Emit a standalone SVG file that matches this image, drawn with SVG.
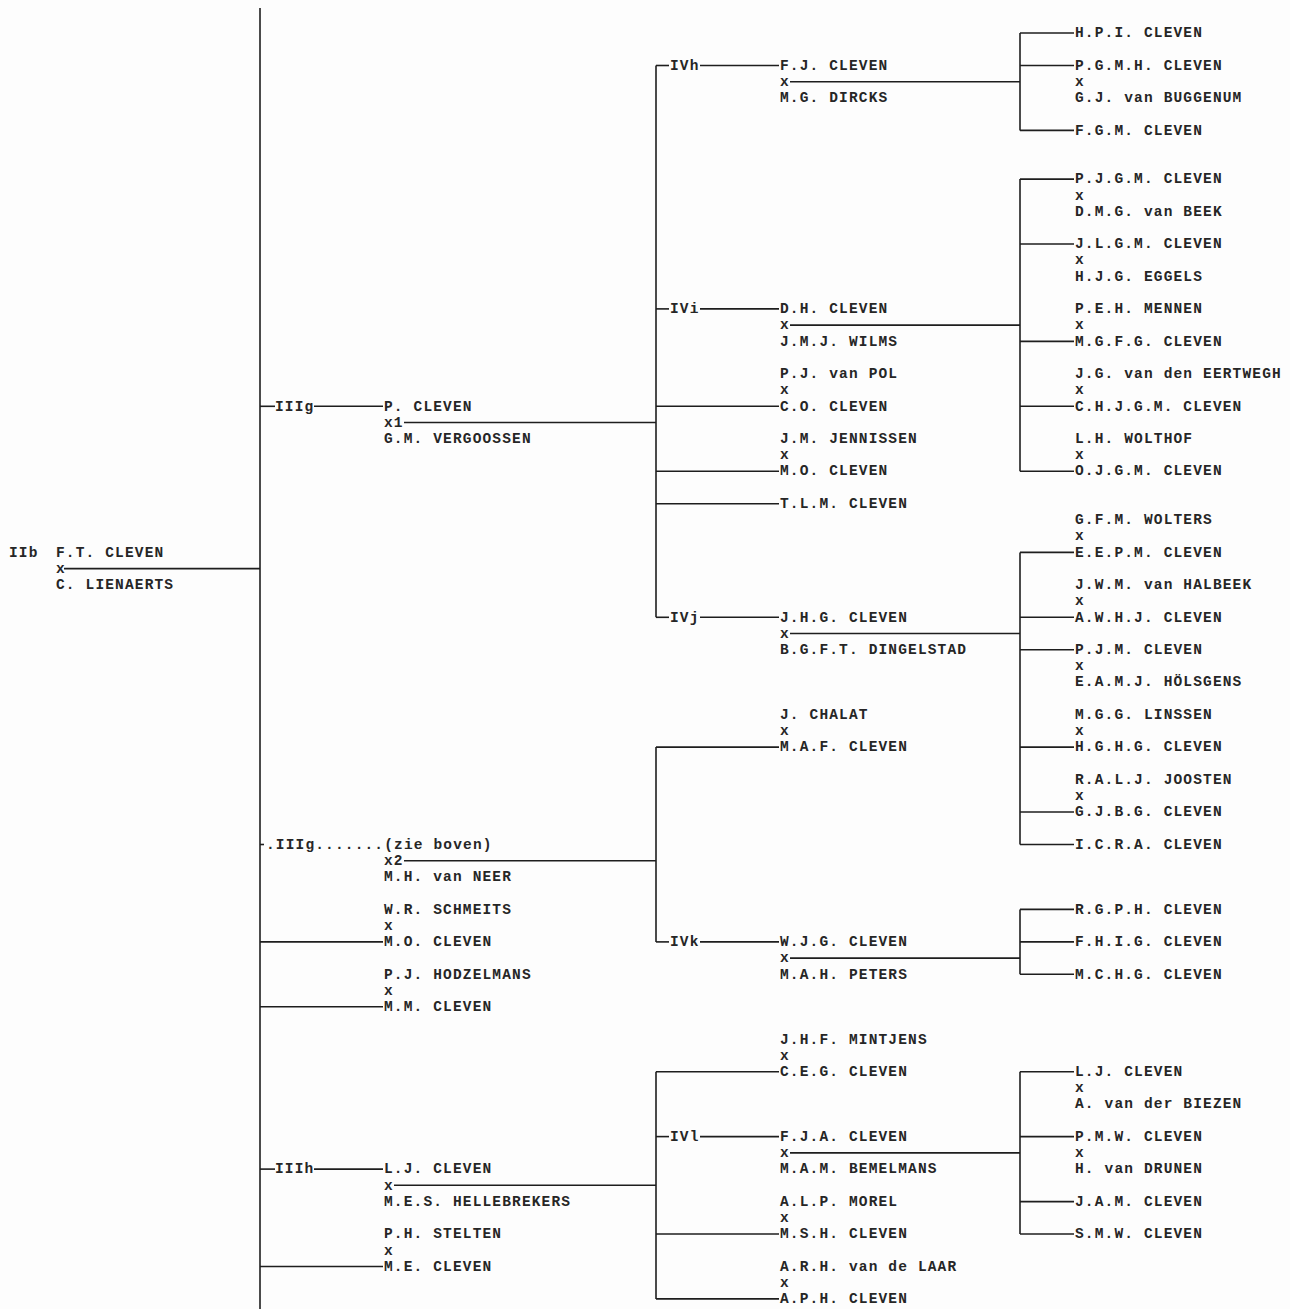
<svg xmlns="http://www.w3.org/2000/svg" width="1290" height="1309" viewBox="0 0 1290 1309">
<style>
text{font-family:"Liberation Mono","Courier New",monospace;font-size:14.5px;font-weight:bold;letter-spacing:1.15px;fill:#262626}
.c line{stroke:#1e1e1e;stroke-width:1.6;fill:none}
</style>
<rect width="1290" height="1309" fill="#fdfdfd"/>
<g class="c" id="connectors">
<line x1="260" y1="8" x2="260" y2="1309"/>
<line x1="64" y1="568.6" x2="260" y2="568.6"/>
<line x1="260" y1="406.3" x2="275" y2="406.3"/><line x1="314" y1="406.3" x2="383" y2="406.3"/>
<line x1="404" y1="422.5" x2="656" y2="422.5"/>
<line x1="260" y1="844.5" x2="264" y2="844.5"/>
<line x1="404" y1="860.7" x2="656" y2="860.7"/>
<line x1="260" y1="941.9" x2="383" y2="941.9"/>
<line x1="260" y1="1006.8" x2="383" y2="1006.8"/>
<line x1="260" y1="1169.1" x2="275" y2="1169.1"/><line x1="314" y1="1169.1" x2="383" y2="1169.1"/>
<line x1="394" y1="1185.3" x2="656" y2="1185.3"/>
<line x1="260" y1="1266.5" x2="383" y2="1266.5"/>
<line x1="656" y1="65.5" x2="656" y2="617.3"/>
<line x1="656" y1="747.1" x2="656" y2="941.9"/>
<line x1="656" y1="1071.7" x2="656" y2="1298.9"/>
<line x1="656" y1="65.5" x2="669" y2="65.5"/><line x1="700" y1="65.5" x2="779" y2="65.5"/>
<line x1="656" y1="308.9" x2="669" y2="308.9"/><line x1="700" y1="308.9" x2="779" y2="308.9"/>
<line x1="656" y1="406.3" x2="779" y2="406.3"/>
<line x1="656" y1="471.2" x2="779" y2="471.2"/>
<line x1="656" y1="503.7" x2="779" y2="503.7"/>
<line x1="656" y1="617.3" x2="669" y2="617.3"/><line x1="700" y1="617.3" x2="779" y2="617.3"/>
<line x1="656" y1="747.1" x2="779" y2="747.1"/>
<line x1="656" y1="941.9" x2="669" y2="941.9"/><line x1="700" y1="941.9" x2="779" y2="941.9"/>
<line x1="656" y1="1071.7" x2="779" y2="1071.7"/>
<line x1="656" y1="1136.6" x2="669" y2="1136.6"/><line x1="700" y1="1136.6" x2="779" y2="1136.6"/>
<line x1="656" y1="1234" x2="779" y2="1234"/>
<line x1="656" y1="1298.9" x2="779" y2="1298.9"/>
<line x1="790" y1="81.7" x2="1020" y2="81.7"/>
<line x1="790" y1="325.1" x2="1020" y2="325.1"/>
<line x1="790" y1="633.5" x2="1020" y2="633.5"/>
<line x1="790" y1="958.1" x2="1020" y2="958.1"/>
<line x1="790" y1="1152.9" x2="1020" y2="1152.9"/>
<line x1="1020" y1="33" x2="1020" y2="130.4"/>
<line x1="1020" y1="179.1" x2="1020" y2="471.2"/>
<line x1="1020" y1="552.4" x2="1020" y2="844.5"/>
<line x1="1020" y1="909.4" x2="1020" y2="974.3"/>
<line x1="1020" y1="1071.7" x2="1020" y2="1234"/>
<line x1="1020" y1="33" x2="1074" y2="33"/>
<line x1="1020" y1="65.5" x2="1074" y2="65.5"/>
<line x1="1020" y1="130.4" x2="1074" y2="130.4"/>
<line x1="1020" y1="179.1" x2="1074" y2="179.1"/>
<line x1="1020" y1="244" x2="1074" y2="244"/>
<line x1="1020" y1="341.4" x2="1074" y2="341.4"/>
<line x1="1020" y1="406.3" x2="1074" y2="406.3"/>
<line x1="1020" y1="471.2" x2="1074" y2="471.2"/>
<line x1="1020" y1="552.4" x2="1074" y2="552.4"/>
<line x1="1020" y1="617.3" x2="1074" y2="617.3"/>
<line x1="1020" y1="649.7" x2="1074" y2="649.7"/>
<line x1="1020" y1="747.1" x2="1074" y2="747.1"/>
<line x1="1020" y1="812" x2="1074" y2="812"/>
<line x1="1020" y1="844.5" x2="1074" y2="844.5"/>
<line x1="1020" y1="909.4" x2="1074" y2="909.4"/>
<line x1="1020" y1="941.9" x2="1074" y2="941.9"/>
<line x1="1020" y1="974.3" x2="1074" y2="974.3"/>
<line x1="1020" y1="1071.7" x2="1074" y2="1071.7"/>
<line x1="1020" y1="1136.6" x2="1074" y2="1136.6"/>
<line x1="1020" y1="1201.6" x2="1074" y2="1201.6"/>
<line x1="1020" y1="1234" x2="1074" y2="1234"/>
</g>
<g id="n-IIb"><text x="9" y="556.6">IIb</text><text x="56" y="556.6">F.T. CLEVEN</text><text x="56" y="572.8">x</text><text x="56" y="589">C. LIENAERTS</text></g>
<g id="n-IIIg"><text x="275" y="410.5">IIIg</text><text x="384" y="410.5">P. CLEVEN</text><text x="384" y="426.7">x1</text><text x="384" y="443">G.M. VERGOOSSEN</text></g>
<g id="n-IIIg2"><text x="266" y="848.7">.IIIg.......(zie boven)</text><text x="384" y="864.9">x2</text><text x="384" y="881.2">M.H. van NEER</text></g>
<g id="n-MO-left"><text x="384" y="913.6">W.R. SCHMEITS</text><text x="384" y="929.9">x</text><text x="384" y="946.1">M.O. CLEVEN</text></g>
<g id="n-MM"><text x="384" y="978.5">P.J. HODZELMANS</text><text x="384" y="994.8">x</text><text x="384" y="1011">M.M. CLEVEN</text></g>
<g id="n-IIIh"><text x="275" y="1173.3">IIIh</text><text x="384" y="1173.3">L.J. CLEVEN</text><text x="384" y="1189.5">x</text><text x="384" y="1205.8">M.E.S. HELLEBREKERS</text></g>
<g id="n-ME"><text x="384" y="1238.2">P.H. STELTEN</text><text x="384" y="1254.5">x</text><text x="384" y="1270.7">M.E. CLEVEN</text></g>
<g id="n-IVh"><text x="670" y="69.7">IVh</text><text x="780" y="69.7">F.J. CLEVEN</text><text x="780" y="85.9">x</text><text x="780" y="102.1">M.G. DIRCKS</text></g>
<g id="n-IVi"><text x="670" y="313.1">IVi</text><text x="780" y="313.1">D.H. CLEVEN</text><text x="780" y="329.3">x</text><text x="780" y="345.6">J.M.J. WILMS</text></g>
<g id="n-CO"><text x="780" y="378">P.J. van POL</text><text x="780" y="394.3">x</text><text x="780" y="410.5">C.O. CLEVEN</text></g>
<g id="n-MO-mid"><text x="780" y="443">J.M. JENNISSEN</text><text x="780" y="459.2">x</text><text x="780" y="475.4">M.O. CLEVEN</text></g>
<g id="n-TLM"><text x="780" y="507.9">T.L.M. CLEVEN</text></g>
<g id="n-IVj"><text x="670" y="621.5">IVj</text><text x="780" y="621.5">J.H.G. CLEVEN</text><text x="780" y="637.7">x</text><text x="780" y="653.9">B.G.F.T. DINGELSTAD</text></g>
<g id="n-MAF"><text x="780" y="718.9">J. CHALAT</text><text x="780" y="735.1">x</text><text x="780" y="751.3">M.A.F. CLEVEN</text></g>
<g id="n-IVk"><text x="670" y="946.1">IVk</text><text x="780" y="946.1">W.J.G. CLEVEN</text><text x="780" y="962.3">x</text><text x="780" y="978.5">M.A.H. PETERS</text></g>
<g id="n-CEG"><text x="780" y="1043.5">J.H.F. MINTJENS</text><text x="780" y="1059.7">x</text><text x="780" y="1075.9">C.E.G. CLEVEN</text></g>
<g id="n-IVl"><text x="670" y="1140.8">IVl</text><text x="780" y="1140.8">F.J.A. CLEVEN</text><text x="780" y="1157.1">x</text><text x="780" y="1173.3">M.A.M. BEMELMANS</text></g>
<g id="n-MSH"><text x="780" y="1205.8">A.L.P. MOREL</text><text x="780" y="1222">x</text><text x="780" y="1238.2">M.S.H. CLEVEN</text></g>
<g id="n-APH"><text x="780" y="1270.7">A.R.H. van de LAAR</text><text x="780" y="1286.9">x</text><text x="780" y="1303.1">A.P.H. CLEVEN</text></g>
<g id="n-HPI"><text x="1075" y="37.2">H.P.I. CLEVEN</text></g>
<g id="n-PGMH"><text x="1075" y="69.7">P.G.M.H. CLEVEN</text><text x="1075" y="85.9">x</text><text x="1075" y="102.1">G.J. van BUGGENUM</text></g>
<g id="n-FGM"><text x="1075" y="134.6">F.G.M. CLEVEN</text></g>
<g id="n-PJGM"><text x="1075" y="183.3">P.J.G.M. CLEVEN</text><text x="1075" y="199.5">x</text><text x="1075" y="215.7">D.M.G. van BEEK</text></g>
<g id="n-JLGM"><text x="1075" y="248.2">J.L.G.M. CLEVEN</text><text x="1075" y="264.4">x</text><text x="1075" y="280.7">H.J.G. EGGELS</text></g>
<g id="n-MGFG"><text x="1075" y="313.1">P.E.H. MENNEN</text><text x="1075" y="329.3">x</text><text x="1075" y="345.6">M.G.F.G. CLEVEN</text></g>
<g id="n-CHJGM"><text x="1075" y="378">J.G. van den EERTWEGH</text><text x="1075" y="394.3">x</text><text x="1075" y="410.5">C.H.J.G.M. CLEVEN</text></g>
<g id="n-OJGM"><text x="1075" y="443">L.H. WOLTHOF</text><text x="1075" y="459.2">x</text><text x="1075" y="475.4">O.J.G.M. CLEVEN</text></g>
<g id="n-EEPM"><text x="1075" y="524.1">G.F.M. WOLTERS</text><text x="1075" y="540.3">x</text><text x="1075" y="556.6">E.E.P.M. CLEVEN</text></g>
<g id="n-AWHJ"><text x="1075" y="589">J.W.M. van HALBEEK</text><text x="1075" y="605.3">x</text><text x="1075" y="621.5">A.W.H.J. CLEVEN</text></g>
<g id="n-PJM"><text x="1075" y="653.9">P.J.M. CLEVEN</text><text x="1075" y="670.2">x</text><text x="1075" y="686.4">E.A.M.J. HÖLSGENS</text></g>
<g id="n-HGHG"><text x="1075" y="718.9">M.G.G. LINSSEN</text><text x="1075" y="735.1">x</text><text x="1075" y="751.3">H.G.H.G. CLEVEN</text></g>
<g id="n-GJBG"><text x="1075" y="783.8">R.A.L.J. JOOSTEN</text><text x="1075" y="800">x</text><text x="1075" y="816.2">G.J.B.G. CLEVEN</text></g>
<g id="n-ICRA"><text x="1075" y="848.7">I.C.R.A. CLEVEN</text></g>
<g id="n-RGPH"><text x="1075" y="913.6">R.G.P.H. CLEVEN</text></g>
<g id="n-FHIG"><text x="1075" y="946.1">F.H.I.G. CLEVEN</text></g>
<g id="n-MCHG"><text x="1075" y="978.5">M.C.H.G. CLEVEN</text></g>
<g id="n-LJ"><text x="1075" y="1075.9">L.J. CLEVEN</text><text x="1075" y="1092.2">x</text><text x="1075" y="1108.4">A. van der BIEZEN</text></g>
<g id="n-PMW"><text x="1075" y="1140.8">P.M.W. CLEVEN</text><text x="1075" y="1157.1">x</text><text x="1075" y="1173.3">H. van DRUNEN</text></g>
<g id="n-JAM"><text x="1075" y="1205.8">J.A.M. CLEVEN</text></g>
<g id="n-SMW"><text x="1075" y="1238.2">S.M.W. CLEVEN</text></g>
</svg>
